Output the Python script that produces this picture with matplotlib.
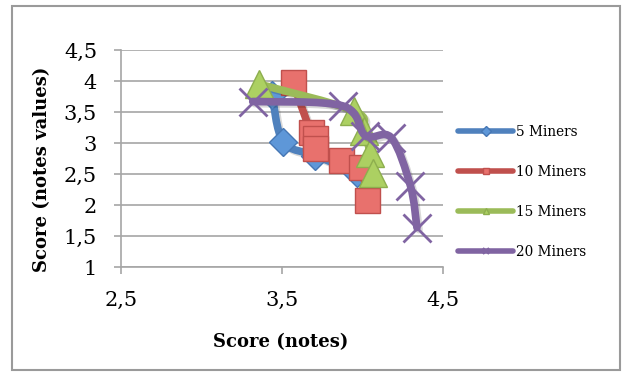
import numpy as np
import matplotlib.pyplot as plt
from matplotlib.path import Path
from matplotlib.patches import PathPatch, Rectangle
from matplotlib.lines import Line2D
import matplotlib.patheffects as pe

# scores per miner count (x = notes, y = notes values)
miners_5_x = [3.44, 3.51, 3.71, 3.97]
miners_5_y = [3.78, 3.02, 2.80, 2.52]

miners_10_x = [3.57, 3.68, 3.71, 3.71, 3.87, 3.99, 4.03]
miners_10_y = [3.99, 3.18, 3.08, 2.92, 2.73, 2.62, 2.08]

miners_15_x = [3.36, 3.95, 4.01, 4.05, 4.07]
miners_15_y = [3.95, 3.52, 3.20, 2.84, 2.52]

miners_20_x = [3.32, 3.88, 4.02, 4.18, 4.30, 4.34]
miners_20_y = [3.67, 3.60, 3.12, 3.09, 2.31, 1.64]

labels = ['5 Miners', '10 Miners', '15 Miners', '20 Miners']
x_ticks = [2.5, 3.5, 4.5]
y_ticks = [1, 1.5, 2, 2.5, 3, 3.5, 4, 4.5]


def smooth_path(xs, ys):
    # bezier curve through the points, like a "smoothed line" chart
    pts = np.column_stack([xs, ys])
    n = len(pts)
    verts = [pts[0]]
    codes = [Path.MOVETO]
    for i in range(n - 1):
        p0 = pts[max(i - 1, 0)]
        p1 = pts[i]
        p2 = pts[i + 1]
        p3 = pts[min(i + 2, n - 1)]
        verts += [p1 + (p2 - p0) / 6, p2 - (p3 - p1) / 6, p2]
        codes += [Path.CURVE4] * 3
    return Path(verts, codes)


def fmt(v):
    return ('%g' % v).replace('.', ',')


fig = plt.figure(figsize=(6.22, 3.72), dpi=100)
ax = fig.add_axes([0.194, 0.2815, 0.5177, 0.584])

series = [
    (miners_5_x, miners_5_y, '#4F81BD', dict(marker='D', ms=14, mfc='#5E97D8', mec='#4677B4', mew=1)),
    (miners_10_x, miners_10_y, '#C0504D', dict(marker='s', ms=18, mfc='#E8716D', mec='#C0504D', mew=1)),
    (miners_15_x, miners_15_y, '#9BBB59', dict(marker='^', ms=20, mfc='#ACD062', mec='#8DAE4E', mew=1)),
    (miners_20_x, miners_20_y, '#8064A2', dict(marker='x', ms=20, mec='#8064A2', mew=2)),
]

shadow = [pe.SimpleLineShadow(offset=(1.5, -1.5), alpha=0.15), pe.Normal()]
z = 3
for xs, ys, col, mk in series:
    patch = PathPatch(smooth_path(xs, ys), fill=False, edgecolor=col, lw=5.5,
                      capstyle='round', joinstyle='round', zorder=z)
    patch.set_path_effects(shadow)
    ax.add_patch(patch)
    ax.plot(xs, ys, linestyle='none', zorder=z + 0.5, **mk)
    z += 1

ax.set_xlim(2.5, 4.5)
ax.set_ylim(1, 4.5)
ax.set_xticks(x_ticks)
ax.set_yticks(y_ticks)
ax.set_xticklabels([fmt(v) for v in x_ticks])
ax.set_yticklabels([fmt(v) for v in y_ticks])

ax.yaxis.grid(True, color='#A6A6A6', lw=1.2)
ax.set_axisbelow(True)
for s in ['top', 'right']:
    ax.spines[s].set_visible(False)
for s in ['left', 'bottom']:
    ax.spines[s].set_color('#A6A6A6')
    ax.spines[s].set_linewidth(1.2)
ax.tick_params(axis='both', direction='out', length=5, width=1.2, color='#A6A6A6',
               labelsize=15, pad=12)
for lab in ax.get_xticklabels() + ax.get_yticklabels():
    lab.set_family('DejaVu Serif')

ax.set_xlabel('Score (notes)', family='DejaVu Serif', fontweight='bold', fontsize=13, va='center')
ax.xaxis.set_label_coords(0.498, -0.344)
ax.set_ylabel('Score (notes values)', family='DejaVu Serif', fontweight='bold', fontsize=13, va='center')
ax.yaxis.set_label_coords(-0.244, 0.452)

handles = []
for xs, ys, col, mk in series:
    small = dict(mk)
    small['ms'] = 5
    small['mew'] = 1 if mk['marker'] != 'x' else 1.5
    handles.append(Line2D([], [], color=col, lw=4, solid_capstyle='round', **small))
fig.legend(handles, labels, loc='center left', bbox_to_anchor=(0.737, 0.484),
           frameon=False, prop={'family': 'DejaVu Serif', 'size': 9.8},
           handlelength=4.0, handletextpad=0.25, labelspacing=1.9,
           borderpad=0, borderaxespad=0)

fig.patches.append(Rectangle((12 / 622, 2 / 372), 608 / 622, 364 / 372, transform=fig.transFigure,
                             fill=False, edgecolor='#9A9A9A', lw=1.5))

fig.savefig('out.png', dpi=100)
